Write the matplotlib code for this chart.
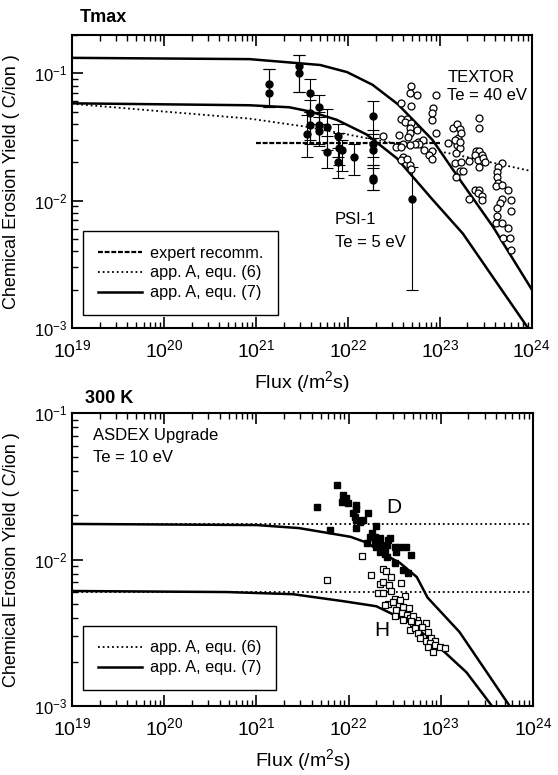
import numpy as np
import matplotlib
matplotlib.use('Agg')
import matplotlib.pyplot as plt

plt.rcParams['font.family'] = ['Liberation Sans', 'DejaVu Sans']
plt.rcParams['mathtext.fontset'] = 'custom'
plt.rcParams['mathtext.rm'] = 'Liberation Sans'

# ---------------- Tmax panel ----------------
# model curves
eq7_hi_flux = [1e19, 8.5e20, 5.0e21, 9.8e21, 1.86e22, 3.5e22, 8.3e22, 1.66e23, 3.8e23, 1e24]
eq7_hi_y = [0.132, 0.129, 0.116, 0.102, 0.081, 0.057, 0.030, 0.0145, 0.0062, 0.0020]
eq7_lo_flux = [1e19, 8.5e20, 2.3e21, 3.9e21, 7.6e21, 1.6e22, 3.4e22, 8.3e22, 1.78e23, 8.9e23]
eq7_lo_y = [0.058, 0.056, 0.054, 0.050, 0.043, 0.033, 0.0215, 0.0102, 0.0055, 0.00102]
eq6_flux = [1e19, 1e20, 8.5e20, 3.5e21, 2.0e22, 1.3e23, 1e24]
eq6_y = [0.0575, 0.050, 0.044, 0.038, 0.030, 0.0234, 0.017]
expert_flux = [1e21, 1e23]
expert_y = [0.0285, 0.0285]

# PSI-1 (flux, yield, lower, upper)
psi_flux = [1.38e21, 1.38e21, 2.96e21, 2.96e21, 3.9e21, 3.9e21, 3.6e21, 3.9e21,
            4.8e21, 4.8e21, 4.8e21, 6.0e21, 6.0e21, 7.9e21, 8.1e21, 8.6e21,
            7.9e21, 1.17e22, 1.87e22, 1.87e22, 1.9e22, 1.87e22, 1.87e22, 5.0e22]
psi_y = [0.082, 0.070, 0.114, 0.100, 0.070, 0.049, 0.033, 0.039,
         0.054, 0.039, 0.035, 0.038, 0.024, 0.032, 0.026, 0.025,
         0.020, 0.022, 0.046, 0.028, 0.025, 0.015, 0.0145, 0.0102]
psi_lo = [0.054, 0.054, 0.071, 0.071, 0.050, 0.030, 0.022, 0.028,
          0.040, 0.028, 0.027, 0.025, 0.018, 0.022, 0.019, 0.017,
          0.015, 0.016, 0.033, 0.022, 0.019, 0.012, 0.012, 0.002]
psi_hi = [0.108, 0.108, 0.139, 0.139, 0.090, 0.062, 0.047, 0.050,
          0.068, 0.050, 0.045, 0.052, 0.032, 0.040, 0.034, 0.030,
          0.026, 0.028, 0.060, 0.036, 0.031, 0.019, 0.018, 0.0184]

# TEXTOR
textor_flux = [4.8e22, 4.7e22, 5.7e22, 9.1e22, 3.8e22, 4.8e22, 8.5e22, 8.2e22, 8.2e22, 3.8e22,
               4.4e22, 4.2e22, 4.8e22, 4.7e22, 5.6e22, 4.7e22, 4.5e22, 3.6e22, 2.4e22, 9.1e22,
               5.8e22, 6.6e22, 6.0e22, 5.4e22, 4.7e22, 4.0e22, 3.3e22, 3.8e22, 6.8e22, 8.2e22,
               7.6e22, 8.2e22, 4.0e22, 3.8e22, 4.4e22, 4.7e22, 4.8e22,
               1.4e23, 1.55e23, 1.65e23, 1.23e23, 1.58e23, 1.52e23, 1.65e23, 1.49e23, 1.46e23,
               1.65e23, 2.7e23, 2.7e23, 1.72e23, 1.46e23, 1.65e23, 2.5e23, 2.7e23, 2.4e23,
               2.84e23, 2.6e23, 2.95e23, 2.1e23, 3.1e23, 2.7e23, 1.72e23, 1.78e23, 4.7e23,
               4.3e23, 4.2e23, 4.2e23, 1.49e23, 4.24e23, 4.06e23, 4.7e23, 5.5e23, 2.4e23,
               2.65e23, 2.6e23, 2.9e23, 2.1e23, 2.84e23, 4.8e23, 5.9e23, 4.5e23, 4.2e23,
               6.0e23, 4.2e23, 4.06e23, 4.7e23, 5.5e23, 4.9e23, 5.8e23, 6.0e23]
textor_y = [0.080, 0.070, 0.068, 0.068, 0.058, 0.055, 0.053, 0.0485, 0.043, 0.044,
            0.0435, 0.041, 0.0405, 0.037, 0.036, 0.0338, 0.0318, 0.0328, 0.0324, 0.0338,
            0.029, 0.030, 0.028, 0.0279, 0.0273, 0.0279, 0.0265, 0.0265, 0.025, 0.0243,
            0.0229, 0.0211, 0.0219, 0.0209, 0.0211, 0.019, 0.0176,
            0.037, 0.040, 0.0363, 0.0282, 0.031, 0.0273, 0.0258, 0.0235, 0.0197,
            0.0169, 0.0444, 0.037, 0.0338, 0.030, 0.029, 0.0243, 0.0247, 0.0229,
            0.0229, 0.0209, 0.0215, 0.0206, 0.0202, 0.0183, 0.0202, 0.0169, 0.0197,
            0.0183, 0.0166, 0.0154, 0.0154, 0.0137, 0.0129, 0.0133, 0.0121, 0.0121,
            0.0121, 0.0114, 0.0109, 0.0103, 0.0101, 0.0103, 0.0101, 0.0095, 0.0087,
            0.0082, 0.0075, 0.0066, 0.0066, 0.0061, 0.0051, 0.0051, 0.0041]

# ---------------- 300 K panel ----------------
d_eq6_y = 0.0175
h_eq6_y = 0.0060
d_eq7_flux = [1e19, 1e21, 2.9e21, 1.05e22, 1.6e22, 2.35e22, 3.6e22, 5.5e22, 7.2e22, 1.6e23, 5.6e23]
d_eq7_y = [0.0175, 0.0172, 0.0164, 0.0143, 0.013, 0.011, 0.0095, 0.0076, 0.0055, 0.0032, 0.001]
h_eq7_flux = [1e19, 4.8e20, 2.5e21, 8.7e21, 2.0e22, 4.7e22, 1.05e23, 1.9e23, 3.6e23]
h_eq7_y = [0.0061, 0.0060, 0.0058, 0.0052, 0.0048, 0.0037, 0.0024, 0.0017, 0.001]

d_flux = [7.5e21, 4.5e21, 8.8e21, 9.4e21, 8.6e21, 9.9e21, 1.2e22, 1.22e22, 1.64e22, 1.11e22,
          1.17e22, 1.22e22, 1.33e22, 1.45e22, 1.2e22, 1.98e22, 6.3e21, 1.78e22, 1.7e22, 1.93e22,
          2.19e22, 1.93e22, 2.7e22, 1.57e22, 2.19e22, 2.6e22, 2.48e22, 3.2e22, 3.6e22, 4.2e22,
          2.8e22, 3.3e22, 4.8e22, 2.19e22, 2.6e22, 3.2e22, 3.9e22, 4.45e22, 2.0e22, 2.25e22, 2.48e22]
d_y = [0.0323, 0.0227, 0.0275, 0.0262, 0.0248, 0.0242, 0.0236, 0.022, 0.0209, 0.0207,
       0.0196, 0.0186, 0.0181, 0.0186, 0.0163, 0.0169, 0.0159, 0.0151, 0.0143, 0.0143,
       0.014, 0.0132, 0.0136, 0.0129, 0.0126, 0.0126, 0.0119, 0.0122, 0.0122, 0.0121,
       0.014, 0.0113, 0.0107, 0.0113, 0.0104, 0.0094, 0.0085, 0.0081, 0.0122, 0.0117, 0.0109]

h_flux = [1.39e22, 5.8e21, 1.74e22, 2.35e22, 2.55e22, 2.86e22, 2.19e22, 2.37e22, 2.77e22, 3.67e22,
          2.1e22, 2.37e22, 2.86e22, 4.1e22, 3.2e22, 2.7e22, 3.0e22, 3.5e22, 3.9e22, 4.5e22,
          3.3e22, 3.8e22, 4.3e22, 3.2e22, 4.7e22, 5.5e22, 3.9e22, 5.0e22, 5.7e22, 7.0e22,
          4.7e22, 5.3e22, 6.2e22, 5.7e22, 6.4e22, 7.3e22, 6.0e22, 7.0e22, 7.9e22, 8.6e22,
          7.7e22, 8.6e22, 7.3e22, 9.8e22, 1.11e23, 8.2e22, 5.0e22, 2.5e22, 3.6e22, 4.8e22]
h_y = [0.0106, 0.0072, 0.0078, 0.0086, 0.0083, 0.0076, 0.0068, 0.0070, 0.0067, 0.0069,
       0.0059, 0.0059, 0.0061, 0.0056, 0.00535, 0.0050, 0.00515, 0.0049, 0.00476, 0.00465,
       0.0045, 0.0043, 0.0042, 0.0041, 0.00397, 0.00387, 0.00387, 0.00367, 0.00367, 0.0037,
       0.0033, 0.0034, 0.00348, 0.00313, 0.00297, 0.0032, 0.0029, 0.0028, 0.0029, 0.0028,
       0.00268, 0.0026, 0.00254, 0.00254, 0.00248, 0.00235, 0.0041, 0.0049, 0.0053, 0.0038]

solid = dict(color='k', lw=1.8)
dotted = dict(color='k', lw=1.3, linestyle=(0, (1, 1.6)))
dashed = dict(color='k', lw=1.6, linestyle=(0, (2.2, 0.8)))

fig = plt.figure(figsize=(5.58, 7.75), dpi=100)
ax1 = fig.add_axes([0.129, 0.577, 0.824, 0.378])
ax2 = fig.add_axes([0.129, 0.089, 0.826, 0.378])

# top panel
ax1.plot(expert_flux, expert_y, label='expert recomm.', **dashed)
ax1.plot(eq6_flux, eq6_y, label='app. A, equ. (6)', **dotted)
ax1.plot(eq7_hi_flux, eq7_hi_y, label='app. A, equ. (7)', **solid)
ax1.plot(eq7_lo_flux, eq7_lo_y, **solid)
psi_y_arr = np.array(psi_y)
yerr = [psi_y_arr - np.array(psi_lo), np.array(psi_hi) - psi_y_arr]
ax1.errorbar(psi_flux, psi_y, yerr=yerr, fmt='o', color='k', ms=5,
             capsize=4.5, elinewidth=0.8, capthick=0.8)
ax1.plot(textor_flux, textor_y, 'o', mfc='white', mec='k', ms=5, mew=0.9)
ax1.text(0.818, 0.853, 'TEXTOR', transform=ax1.transAxes, fontsize=12, va='center')
ax1.text(0.816, 0.792, 'Te = 40 eV', transform=ax1.transAxes, fontsize=12, va='center')
ax1.text(0.572, 0.369, 'PSI-1', transform=ax1.transAxes, fontsize=12, va='center')
ax1.text(0.572, 0.29, 'Te = 5 eV', transform=ax1.transAxes, fontsize=12, va='center')
ax1.set_ylim(1e-3, 0.2)
leg1 = ax1.legend(loc='lower left', bbox_to_anchor=(0.024, 0.044), borderaxespad=0,
                  fontsize=11.7, handlelength=2.7, handletextpad=0.5, labelspacing=0.3,
                  borderpad=0.9, fancybox=False, edgecolor='k', framealpha=1)
leg1.get_frame().set_linewidth(1.0)
fig.text(0.143, 0.977, 'Tmax', fontsize=13, fontweight='bold', va='center')

# bottom panel
ax2.axhline(d_eq6_y, label='app. A, equ. (6)', **dotted)
ax2.axhline(h_eq6_y, **dotted)
ax2.plot(d_eq7_flux, d_eq7_y, label='app. A, equ. (7)', **solid)
ax2.plot(h_eq7_flux, h_eq7_y, **solid)
ax2.plot(d_flux, d_y, 's', color='k', ms=4.5)
ax2.plot(h_flux, h_y, 's', mfc='white', mec='k', ms=4.5, mew=0.9)
ax2.text(0.046, 0.925, 'ASDEX Upgrade', transform=ax2.transAxes, fontsize=12, va='center')
ax2.text(0.046, 0.85, 'Te = 10 eV', transform=ax2.transAxes, fontsize=12, va='center')
ax2.text(0.698, 0.676, 'D', transform=ax2.transAxes, fontsize=15, va='center', ha='center')
ax2.text(0.672, 0.259, 'H', transform=ax2.transAxes, fontsize=15, va='center', ha='center')
ax2.set_ylim(1e-3, 1e-1)
leg2 = ax2.legend(loc='lower left', bbox_to_anchor=(0.024, 0.055), borderaxespad=0,
                  fontsize=11.7, handlelength=2.7, handletextpad=0.5, labelspacing=0.3,
                  borderpad=0.9, fancybox=False, edgecolor='k', framealpha=1)
leg2.get_frame().set_linewidth(1.0)
fig.text(0.152, 0.486, '300 K', fontsize=13, fontweight='bold', va='center')

for ax in (ax1, ax2):
    ax.set_xscale('log')
    ax.set_yscale('log')
    ax.set_xlim(1e19, 1e24)
    ax.set_xticks([1e19, 1e20, 1e21, 1e22, 1e23, 1e24])
    ax.tick_params(which='both', direction='in', top=True, right=False)
    ax.tick_params(which='major', length=8, width=1.2)
    ax.tick_params(which='minor', length=4, width=1.0)
    ax.tick_params(axis='x', which='major', labelsize=14, pad=8)
    ax.tick_params(axis='y', which='major', labelsize=12)
    for s in ax.spines.values():
        s.set_linewidth(1.5)
    ax.set_xlabel('Flux (/m$^2$s)', fontsize=14, labelpad=6)
    ax.set_ylabel('Chemical Erosion Yield ( C/ion )', fontsize=13)
    ax.yaxis.set_label_coords(-0.113, 0.5)

fig.savefig('out.png', dpi=100)
